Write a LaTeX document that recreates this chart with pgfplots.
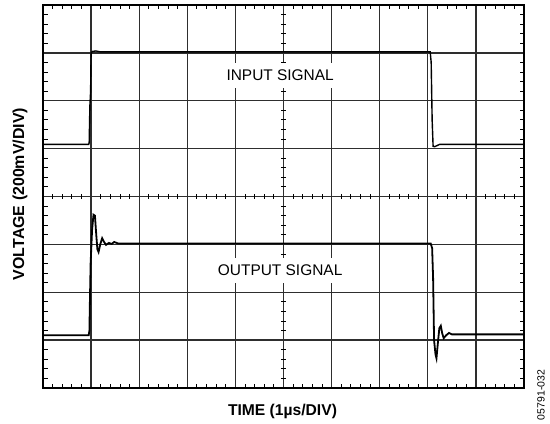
\documentclass[border=0pt]{standalone}
\usepackage{pgfplots}
\pgfplotsset{compat=1.18}
\usepackage{fontspec}
\setmainfont{Liberation Sans}
\definecolor{gridc}{HTML}{2E2E2E}
\begin{document}
\begin{tikzpicture}[x=1bp,y=1bp]
\useasboundingbox (0,0) rectangle (550,423);
\begin{axis}[
  at={(43bp,35bp)}, anchor=south west,
  scale only axis, width=481bp, height=383bp,
  xmin=0, xmax=10, ymin=0, ymax=8,
  xtick={0,...,10}, ytick={0,...,8},
  xticklabel=\empty, yticklabel=\empty,
  minor x tick num=4, minor y tick num=4,
  xtick pos=both, ytick pos=both,
  tick align=inside,
  major tick length=0pt, minor tick length=4.5bp,
  minor tick style={black, line width=0.9bp},
  grid=major,
  major grid style={gridc, line width=1.3bp},
  axis line style={black, line width=1.6bp},
  clip=false,
]
% centre-line ticks
\pgfplotsinvokeforeach{0.2,0.4,0.6,0.8,1.2,1.4,1.6,1.8,2.2,2.4,2.6,2.8,3.2,3.4,3.6,3.8,4.2,4.4,4.6,4.8,5.2,5.4,5.6,5.8,6.2,6.4,6.6,6.8,7.2,7.4,7.6,7.8,8.2,8.4,8.6,8.8,9.2,9.4,9.6,9.8}{
  \draw[black, line width=0.9bp] (axis cs:#1,4) ++(0,-2.4bp) -- ++(0,4.8bp);
}
\pgfplotsinvokeforeach{0.2,0.4,0.6,0.8,1.2,1.4,1.6,1.8,2.2,2.4,2.6,2.8,3.2,3.4,3.6,3.8,4.2,4.4,4.6,4.8,5.2,5.4,5.6,5.8,6.2,6.4,6.6,6.8,7.2,7.4,7.6,7.8}{
  \draw[black, line width=0.9bp] (axis cs:5,#1) ++(-2.4bp,0) -- ++(4.8bp,0);
}
% input signal
\addplot[black, line width=1.4bp] coordinates {
(0,5.09) (0.95,5.09) (0.96,5.12) (0.975,5.9) (0.99,6.2) (1.0,7.0) (1.03,7.03) (1.1,7.04) (1.2,7.02)
(8.05,7.02) (8.07,6.8) (8.09,5.6) (8.11,5.05) (8.14,5.04) (8.25,5.09) (10,5.09)};
% output signal
\addplot[black, line width=1.8bp] coordinates {
(0,1.1) (0.95,1.1) (0.965,1.2) (0.975,1.8) (0.99,2.6) (1.02,3.3) (1.05,3.62) (1.08,3.6) (1.10,3.3)
(1.13,2.9) (1.155,2.84) (1.19,3.0) (1.23,3.13) (1.27,3.05) (1.31,2.99) (1.37,3.03) (1.43,3.01) (1.48,3.05) (1.56,3.02)
(8.06,3.02) (8.09,2.92) (8.11,2.3) (8.13,1.0) (8.16,0.7) (8.18,0.62) (8.21,0.95) (8.24,1.25) (8.27,1.3)
(8.30,1.14) (8.33,1.04) (8.38,1.1) (8.44,1.15) (8.5,1.12) (10,1.12)};
\node[fill=white, inner xsep=2bp, inner ysep=7bp, font=\fontsize{15.5}{18}\selectfont] at (axis cs:4.93,6.53) {INPUT SIGNAL};
\node[fill=white, inner xsep=2bp, inner ysep=7bp, font=\fontsize{15.5}{18}\selectfont] at (axis cs:4.93,2.46) {OUTPUT SIGNAL};
\end{axis}
\node[font=\bfseries\fontsize{15.7}{18}\selectfont] at (282.5,12) {TIME (1µs/DIV)};
\node[rotate=90, font=\bfseries\fontsize{16}{19}\selectfont] at (20,229) {VOLTAGE (200mV/DIV)};
\node[rotate=90, font=\fontsize{10.5}{12}\selectfont] at (541,28) {05791-032};
\end{tikzpicture}
\end{document}
